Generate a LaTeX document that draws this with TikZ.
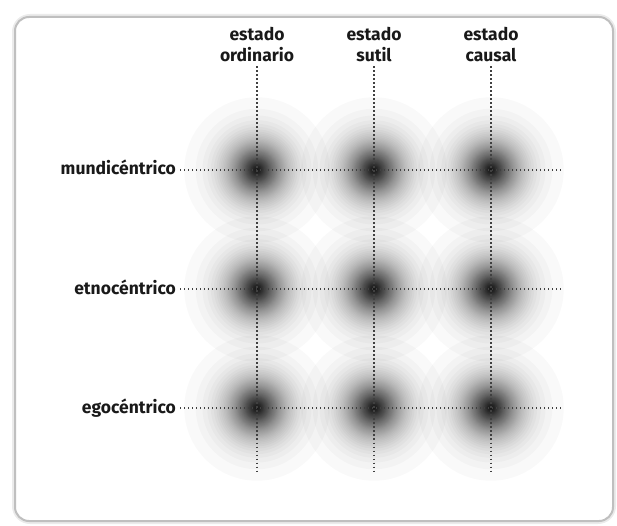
\documentclass[tikz,border=0pt]{standalone}
\usepackage{fontspec}
\setmainfont{Fira Sans}
\usetikzlibrary{positioning}

\tikzset{
  lab/.style={font=\fontsize{17.5}{21}\selectfont\bfseries, text=black!90, inner sep=4pt},
  dotline/.style={black!75, line width=1.1pt, dash pattern=on 1.1pt off 2.9pt},
  % thin layer of a soft spot
  layer/.style={fill=black, fill opacity=0.0225},
}

\begin{document}
\begin{tikzpicture}[x=1pt, y=-1pt]
  \useasboundingbox (0,0) rectangle (617,526);
  \def\cA{257} \def\cB{374} \def\cC{491}
  \def\rA{170} \def\rB{289} \def\rC{408}

  % 1. card
  \draw[black!8, line width=6pt, rounded corners=15pt] (15,17) rectangle (613,521);
  \draw[black!25, line width=2pt, rounded corners=14pt, fill=white] (15,17) rectangle (613,521);

  % 2. spots (stacked see-through discs)
  \foreach \px in {\cA,\cB,\cC}{
    \foreach \py in {\rA,\rB,\rC}{
      \foreach \k in {1,...,81}{
        \pgfmathsetmacro\rad{16.5*ln(82/\k)}
        \path[layer] (\px,\py) circle (\rad);
      }
    }
  }

  % 3. labels
  \node[lab, anchor=base east] (mundi) at (180,175) {mundicéntrico};
  \node[lab, anchor=base east] (etno)  at (180,294) {etnocéntrico};
  \node[lab, anchor=base east] (ego)   at (180,413) {egocéntrico};
  \node[lab, align=center, anchor=base] (ord)   at (\cA,62) {estado\\ordinario};
  \node[lab, align=center, anchor=base] (sutil) at (\cB,62) {estado\\sutil};
  \node[lab, align=center, anchor=base] (caus)  at (\cC,62) {estado\\causal};

  % 4. dotted grid
  \coordinate (mundi-end) at (561,\rA);
  \coordinate (etno-end)  at (561,\rB);
  \coordinate (ego-end)   at (561,\rC);
  \coordinate (ord-end)   at (\cA,472);
  \coordinate (sutil-end) at (\cB,472);
  \coordinate (caus-end)  at (\cC,472);
  \draw[dotline] (mundi.east |- 0,\rA) -- (mundi-end);
  \draw[dotline] (etno.east |- 0,\rB) -- (etno-end);
  \draw[dotline] (ego.east |- 0,\rC) -- (ego-end);
  \draw[dotline] (ord.south) -- (ord-end);
  \draw[dotline] (sutil.south) -- (sutil-end);
  \draw[dotline] (caus.south) -- (caus-end);
\end{tikzpicture}
\end{document}
